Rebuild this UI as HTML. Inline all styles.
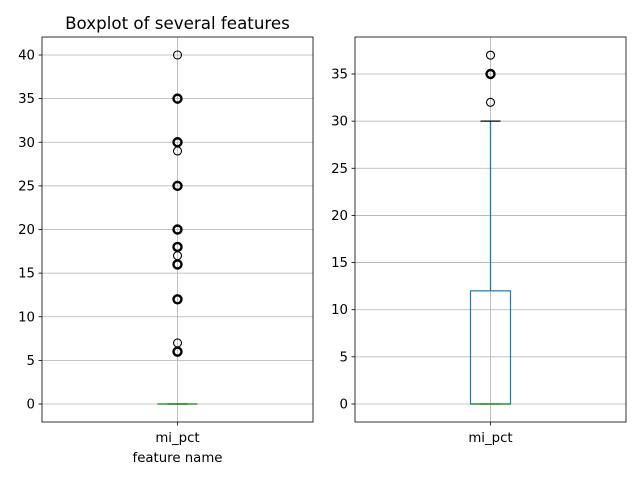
<!DOCTYPE html>
<html><head><meta charset="utf-8"><style>
body{margin:0;background:#fff;}
svg text{font-family:"DejaVu Sans","Liberation Sans",sans-serif;font-size:13.3px;fill:#000;}
</style></head><body>
<svg id="c" width="640" height="480" xmlns="http://www.w3.org/2000/svg"></svg>
<script>
const leftTicks=[0,5,10,15,20,25,30,35,40];
const leftOutliers=[6,6,6,7,12,12,12,16,16,16,17,18,18,18,20,20,20,25,25,25,29,30,30,30,35,35,35,40];
const leftBox=[0,0,0,0,0]; // whislo,q1,med,q3,whishi
const rightTicks=[0,5,10,15,20,25,30,35];
const rightOutliers=[32,35,35,35,37];
const rightBox=[0,0,0,12,30];
const category=["mi_pct"];

const NS="http://www.w3.org/2000/svg";
const svg=document.getElementById('c');
function el(t,a,p){const e=document.createElementNS(NS,t);for(const k in a)e.setAttribute(k,a[k]);(p||svg).appendChild(e);return e;}

function panel(name,x0,x1,top,bot,yScale,ticks,box,outs,xlabel,title){
  const g=el('g',{});
  
  
  const cx=(x0+x1)/2;
  ticks.forEach(t=>{const y=yScale(t);
    const l=el('line',{x1:x0,x2:x1,y1:y,y2:y,stroke:'#b0b0b0','stroke-width':0.8},g);
    
    el('line',{x1:x0-3.5,x2:x0,y1:y,y2:y,stroke:'#000','stroke-width':0.8},g);
    const tx=el('text',{x:x0-7,y:y+4.5,'text-anchor':'end'},g);tx.textContent=t;
    
  });
  el('line',{x1:cx,x2:cx,y1:top,y2:bot,stroke:'#b0b0b0','stroke-width':0.8},g);
  el('line',{x1:cx,x2:cx,y1:bot,y2:bot+3.5,stroke:'#000','stroke-width':0.8},g);
  const xl=el('text',{x:cx,y:bot+20,'text-anchor':'middle'},g);xl.textContent=category[0];
  
  const bw=40,bx=cx-bw/2;
  const [lo,q1,med,q3,hi]=box;
  const b=el('rect',{x:bx,y:yScale(q3),width:bw,height:Math.max(0,yScale(q1)-yScale(q3)),fill:'none',stroke:'#1f77b4','stroke-width':1.2},g);
  
  el('line',{x1:cx,x2:cx,y1:yScale(q3),y2:yScale(hi),stroke:'#1f77b4','stroke-width':1.3},g);
  el('line',{x1:cx,x2:cx,y1:yScale(q1),y2:yScale(lo),stroke:'#1f77b4','stroke-width':1.3},g);
  el('line',{x1:cx-10,x2:cx+10,y1:yScale(hi),y2:yScale(hi),stroke:'#000','stroke-width':1.3},g);
  el('line',{x1:cx-10,x2:cx+10,y1:yScale(lo),y2:yScale(lo),stroke:'#000','stroke-width':1.3},g);
  const m=el('line',{x1:bx,x2:bx+bw,y1:yScale(med),y2:yScale(med),stroke:'#2ca02c','stroke-width':1.6},g);
  
  const counts={};outs.forEach(v=>counts[v]=(counts[v]||0)+1);
  Object.keys(counts).forEach(k=>{const v=+k;const n=counts[k];
    const c=el('circle',{cx:cx,cy:yScale(v),r:4,fill:'none',stroke:'#000','stroke-width':n>1?2.4:1.1},g);
    });
  el('rect',{x:x0,y:top,width:x1-x0,height:bot-top,fill:'none',stroke:'#000','stroke-width':0.8},g);
  if(xlabel){const t=el('text',{x:cx,y:462,'text-anchor':'middle'},g);t.textContent=xlabel;
    }
  if(title){const t=el('text',{x:cx,y:29,'text-anchor':'middle',style:'font-size:16.7px'},g);t.textContent=title;
    }
}
const yL=v=>404-v*(404-55)/40;
const yR=v=>404-v*(404-74)/35;
panel('left-panel',42,313,37,422,yL,leftTicks,leftBox,leftOutliers,'feature name','Boxplot of several features');
panel('right-panel',355,626,37,422,yR,rightTicks,rightBox,rightOutliers,null,null);
</script>
</body></html>
